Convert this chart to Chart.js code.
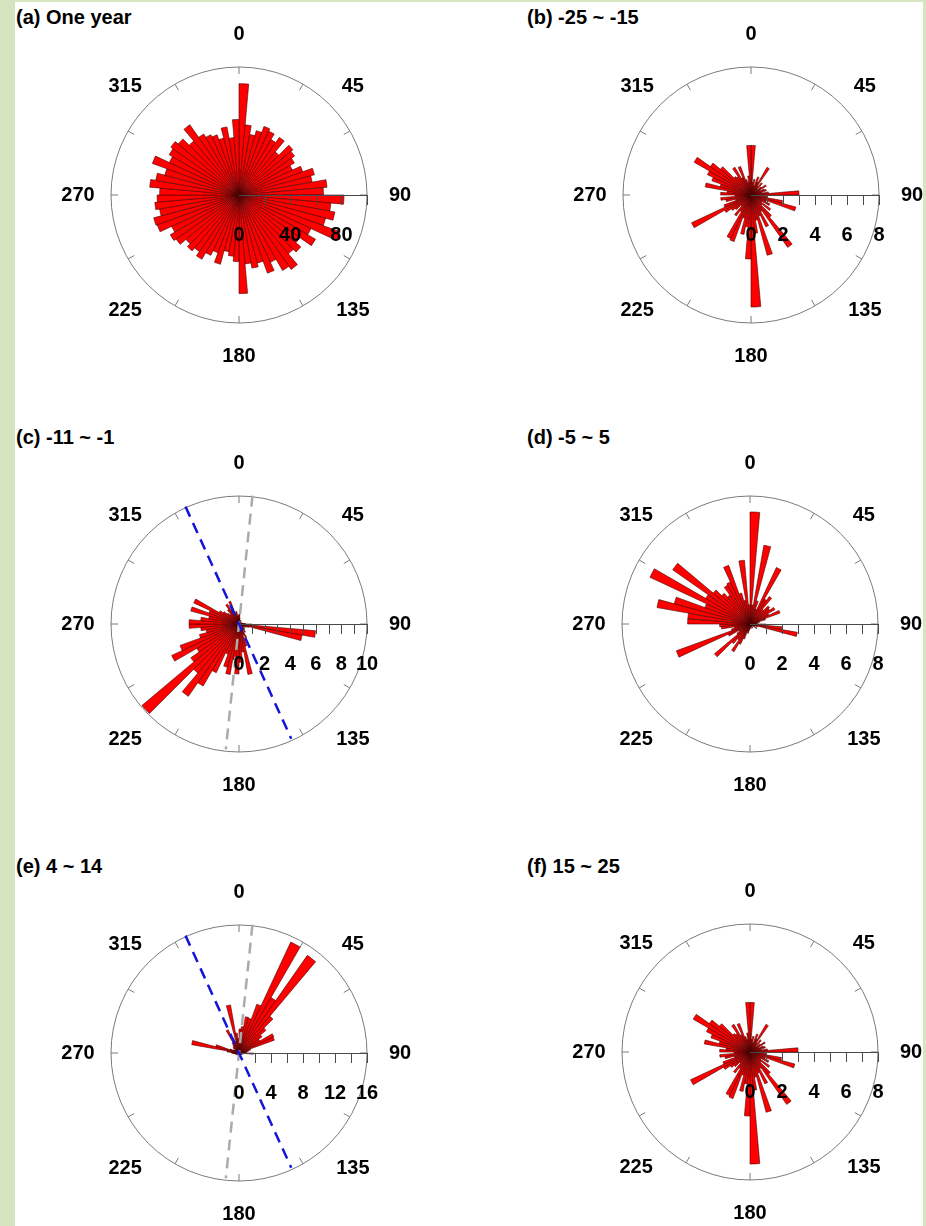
<!DOCTYPE html>
<html>
<head>
<meta charset="utf-8">
<title>Rose diagrams</title>
<script src="https://cdn.jsdelivr.net/npm/chart.js@4.4.1/dist/chart.umd.min.js"></script>
<style>
  html, body { margin: 0; padding: 0; }
  body {
    width: 926px; height: 1226px; position: relative; overflow: hidden;
    background: #ffffff;
    font-family: "Liberation Sans", Arial, sans-serif;
  }
  .frame { position: absolute; background: #d6e4bf; }
  .panel-title {
    position: absolute; font-weight: bold; font-size: 20px; line-height: 20px;
    color: #000; white-space: pre;
  }
  canvas { position: absolute; }
</style>
</head>
<body>
<div class="frame" style="left:0;top:0;width:15px;height:1226px"></div>
<div class="frame" style="left:0;top:0;width:926px;height:2px"></div>
<div class="frame" style="left:923px;top:0;width:3px;height:1226px"></div>

<div class="panel-title" style="left:16px;top:7px">(a) One year</div>
<div class="panel-title" style="left:527px;top:7px">(b) -25 ~ -15</div>
<div class="panel-title" style="left:16px;top:427px">(c) -11 ~ -1</div>
<div class="panel-title" style="left:527px;top:427px">(d) -5 ~ 5</div>
<div class="panel-title" style="left:16px;top:856px">(e) 4 ~ 14</div>
<div class="panel-title" style="left:527px;top:856px">(f) 15 ~ 25</div>

<canvas id="roseA" width="360" height="360" style="left:59px;top:15px"></canvas>
<canvas id="roseB" width="360" height="360" style="left:571px;top:15px"></canvas>
<canvas id="roseC" width="360" height="360" style="left:59px;top:444px"></canvas>
<canvas id="roseD" width="360" height="360" style="left:570px;top:444px"></canvas>
<canvas id="roseE" width="360" height="360" style="left:59px;top:873px"></canvas>
<canvas id="roseF" width="360" height="360" style="left:570px;top:872px"></canvas>

<script>
// 5-degree direction bins (bin start, clockwise from north)
const binStarts = [
  0, 5, 10, 15, 20, 25, 30, 35, 40, 45, 50, 55, 60, 65, 70, 75, 80, 85,
  90, 95, 100, 105, 110, 115, 120, 125, 130, 135, 140, 145, 150, 155, 160, 165, 170, 175,
  180, 185, 190, 195, 200, 205, 210, 215, 220, 225, 230, 235, 240, 245, 250, 255, 260, 265,
  270, 275, 280, 285, 290, 295, 300, 305, 310, 315, 320, 325, 330, 335, 340, 345, 350, 355
];

// Counts per bin for each period
const countsOneYear = [
  87, 55, 48, 52, 57, 55, 50, 55, 44, 55,
  53, 50, 46, 53, 61, 58, 69, 66, 82, 72,
  76, 70, 84, 62, 69, 58, 63, 60, 71, 68,
  58, 65, 55, 58, 54, 77, 52, 48, 45, 56,
  48, 52, 58, 54, 57, 54, 60, 62, 58, 68,
  69, 63, 66, 64, 62, 70, 66, 60, 72, 60,
  63, 65, 62, 55, 67, 55, 52, 50, 46, 54,
  45, 59
];
const countsM25toM15 = [
  3.1, 0.8, 1.0, 0.6, 1.2, 0.9, 2.0, 0.7, 1.0, 0.5,
  0.8, 1.1, 0.6, 0.9, 1.0, 0.7, 1.1, 3.0, 0.9, 1.0,
  2.0, 2.9, 1.0, 1.3, 0.8, 1.5, 0.9, 1.8, 4.0, 1.2,
  2.2, 1.4, 3.9, 1.6, 2.4, 7.0, 4.0, 2.0, 2.5, 1.5,
  3.1, 3.0, 1.2, 1.6, 0.9, 1.3, 1.5, 1.9, 4.1, 1.8,
  1.0, 1.6, 1.9, 1.0, 1.9, 1.5, 2.9, 2.0, 2.6, 3.0,
  4.1, 3.1, 2.5, 1.5, 1.4, 2.0, 1.2, 1.9, 1.0, 0.8,
  1.2, 3.1
];
const countsM11toM1 = [
  0.8, 0.5, 0.3, 0.2, 0.3, 0.2, 0.3, 0.2, 0.2, 0.1,
  0.2, 0.1, 0.2, 0.1, 0.2, 0.3, 0.2, 0.5, 1.0, 6.0,
  5.0, 0.8, 0.6, 0.4, 0.5, 0.3, 0.6, 0.5, 0.8, 0.6,
  1.2, 0.9, 1.8, 4.0, 2.2, 3.0, 3.9, 2.8, 4.0, 3.5,
  2.5, 4.2, 5.6, 6.9, 5.0, 9.9, 4.6, 3.8, 5.8, 4.9,
  3.2, 2.6, 3.0, 3.9, 3.9, 3.0, 2.4, 3.9, 2.5, 3.9,
  1.8, 1.5, 1.2, 1.0, 1.4, 1.8, 1.2, 1.9, 0.9, 1.0,
  0.6, 0.7
];
const countsM5to5 = [
  7.0, 1.2, 5.0, 1.5, 1.0, 3.9, 1.8, 2.1, 1.2, 1.6,
  1.5, 1.8, 1.3, 2.0, 1.0, 0.6, 0.5, 0.4, 1.0, 2.0,
  3.0, 0.5, 0.3, 0.2, 0.5, 0.2, 0.1, 0.2, 0.1, 0.3,
  0.2, 0.1, 0.2, 0.3, 0.1, 0.2, 0.3, 0.4, 0.6, 0.5,
  1.0, 1.4, 2.0, 1.2, 1.6, 2.9, 1.0, 0.8, 1.5, 4.9,
  1.2, 1.0, 1.8, 1.9, 3.9, 3.9, 5.9, 4.9, 3.0, 6.9,
  3.2, 5.9, 3.0, 2.5, 2.2, 2.8, 2.9, 3.9, 2.0, 1.5,
  4.0, 1.2
];
const counts4to14 = [
  3.0, 3.3, 4.6, 4.5, 6.5, 15.3, 8.0, 14.9, 6.0, 4.4,
  3.5, 3.0, 4.8, 4.7, 1.5, 1.2, 1.0, 0.8, 1.8, 0.6,
  0.5, 0.4, 0.3, 0.4, 0.2, 0.3, 0.2, 0.3, 0.2, 0.3,
  0.2, 0.3, 0.4, 0.3, 0.5, 0.4, 0.5, 0.3, 0.4, 0.2,
  0.3, 0.2, 0.3, 0.2, 0.2, 0.3, 0.2, 0.3, 0.4, 0.3,
  0.4, 0.5, 0.6, 0.8, 1.0, 1.5, 6.0, 3.0, 1.2, 0.8,
  0.6, 0.5, 1.0, 0.8, 1.2, 1.5, 3.2, 2.0, 1.5, 6.1,
  2.5, 1.8
];
const counts15to25 = [
  3.1, 0.8, 1.0, 0.6, 1.2, 0.9, 2.0, 0.7, 1.0, 0.5,
  0.8, 1.1, 0.6, 0.9, 1.0, 0.7, 1.1, 3.0, 0.9, 1.0,
  2.0, 2.9, 1.0, 1.3, 0.8, 1.5, 0.9, 1.8, 4.0, 1.2,
  2.2, 1.4, 3.9, 1.6, 2.4, 7.0, 4.0, 2.0, 2.5, 1.5,
  3.1, 3.0, 1.2, 1.6, 0.9, 1.3, 1.5, 1.9, 4.1, 1.8,
  1.0, 1.6, 1.9, 1.0, 1.9, 1.5, 2.9, 2.0, 2.6, 3.0,
  4.1, 3.1, 2.5, 1.5, 1.4, 2.0, 1.2, 1.9, 1.0, 0.8,
  1.2, 3.1
];

// Compass ring marks and labels (degrees)
const compassTickAngles = [0, 30, 60, 90, 120, 150, 180, 210, 240, 270, 300, 330];
const compassLabels = [0, 45, 90, 135, 180, 225, 270, 315];

// Radial axis (drawn along 90 degrees)
const radialMaxA = 100, radialTicksA = [20, 40, 60, 80, 100], radialLabelsA = [0, 40, 80];
const radialMax8 = 8, radialTicks8 = [1, 2, 3, 4, 5, 6, 7, 8], radialLabels8 = [0, 2, 4, 6, 8];
const radialMaxC = 10, radialTicksC = [1, 2, 3, 4, 5, 6, 7, 8, 9, 10], radialLabelsC = [0, 2, 4, 6, 8, 10];
const radialMaxE = 16, radialTicksE = [2, 4, 6, 8, 10, 12, 14, 16], radialLabelsE = [0, 4, 8, 12, 16];

// Reference directions drawn as dashed diameters (degrees from north)
const strikeDirections = [335.5];
const meanDirections = [6];

const FONT = '"Liberation Sans", Arial, Helvetica, sans-serif';
Chart.defaults.font.family = FONT;

const roseDecor = {
  id: 'roseDecor',
  afterDatasetsDraw(chart, args, opts) {
    const s = chart.scales.r;
    const ctx = chart.ctx;
    const cx = s.xCenter, cy = s.yCenter, R = s.drawingArea;
    const pt = (deg, r) => {
      const a = deg * Math.PI / 180;
      return [cx + r * Math.sin(a), cy - r * Math.cos(a)];
    };
    ctx.save();

    // outer ring
    ctx.strokeStyle = '#7a7a7a';
    ctx.lineWidth = 1;
    ctx.beginPath();
    ctx.arc(cx, cy, R, 0, Math.PI * 2);
    ctx.stroke();

    // inward ticks on the ring
    ctx.beginPath();
    for (const a of compassTickAngles) {
      const [x1, y1] = pt(a, R);
      const [x2, y2] = pt(a, R - 7);
      ctx.moveTo(x1, y1);
      ctx.lineTo(x2, y2);
    }
    ctx.stroke();

    // radial axis with ticks
    ctx.strokeStyle = '#4a4a4a';
    ctx.beginPath();
    ctx.moveTo(cx, cy + 0.5);
    ctx.lineTo(cx + R, cy + 0.5);
    for (const v of opts.ticks) {
      const x = Math.round(cx + s.getDistanceFromCenterForValue(v)) + 0.5;
      ctx.moveTo(x, cy);
      ctx.lineTo(x, cy + 10);
    }
    ctx.stroke();

    // dashed reference diameters
    const dashed = (deg, color) => {
      const [x1, y1] = pt(deg, R + 1);
      const [x2, y2] = pt(deg + 180, R - 2);
      ctx.save();
      ctx.strokeStyle = color;
      ctx.lineWidth = 2.5;
      ctx.setLineDash([11, 7]);
      ctx.beginPath();
      ctx.moveTo(x1, y1);
      ctx.lineTo(x2, y2);
      ctx.stroke();
      ctx.restore();
    };
    (opts.meanLines || []).forEach(d => dashed(d, '#ababab'));
    (opts.strikeLines || []).forEach(d => dashed(d, '#1414d8'));

    // labels
    ctx.fillStyle = '#000';
    ctx.font = 'bold 20px ' + FONT;
    ctx.textAlign = 'center';
    ctx.textBaseline = 'middle';
    for (const lab of compassLabels) {
      const [x, y] = pt(lab, 161);
      // diagonal labels sit slightly lower than the pure circle position
      const dy = (lab % 90 === 0) ? 0 : (lab === 45 || lab === 315 ? 5 : 2);
      ctx.fillText(String(lab), x, y + dy);
    }
    for (const v of opts.labels) {
      ctx.fillText(String(v), cx + s.getDistanceFromCenterForValue(v), cy + 40);
    }
    ctx.restore();
  }
};

function rose(id, counts, max, ticks, labels, extra) {
  return new Chart(document.getElementById(id), {
    type: 'polarArea',
    data: {
      labels: binStarts,
      datasets: [{
        data: counts,
        backgroundColor: '#ff0000',
        borderColor: 'rgba(70,0,0,0.85)',
        borderWidth: 0.7
      }]
    },
    options: {
      responsive: false,
      animation: false,
      layout: { padding: 52 },
      plugins: {
        legend: { display: false },
        tooltip: { enabled: false },
        roseDecor: Object.assign({ ticks, labels }, extra || {})
      },
      scales: {
        r: {
          min: 0,
          max: max,
          startAngle: 0,
          ticks: { display: false },
          grid: { display: false },
          angleLines: { display: false },
          pointLabels: { display: false }
        }
      }
    },
    plugins: [roseDecor]
  });
}

rose('roseA', countsOneYear, radialMaxA, radialTicksA, radialLabelsA);
rose('roseB', countsM25toM15, radialMax8, radialTicks8, radialLabels8);
rose('roseC', countsM11toM1, radialMaxC, radialTicksC, radialLabelsC,
     { strikeLines: strikeDirections, meanLines: meanDirections });
rose('roseD', countsM5to5, radialMax8, radialTicks8, radialLabels8);
rose('roseE', counts4to14, radialMaxE, radialTicksE, radialLabelsE,
     { strikeLines: strikeDirections, meanLines: meanDirections });
rose('roseF', counts15to25, radialMax8, radialTicks8, radialLabels8);
</script>
</body>
</html>
